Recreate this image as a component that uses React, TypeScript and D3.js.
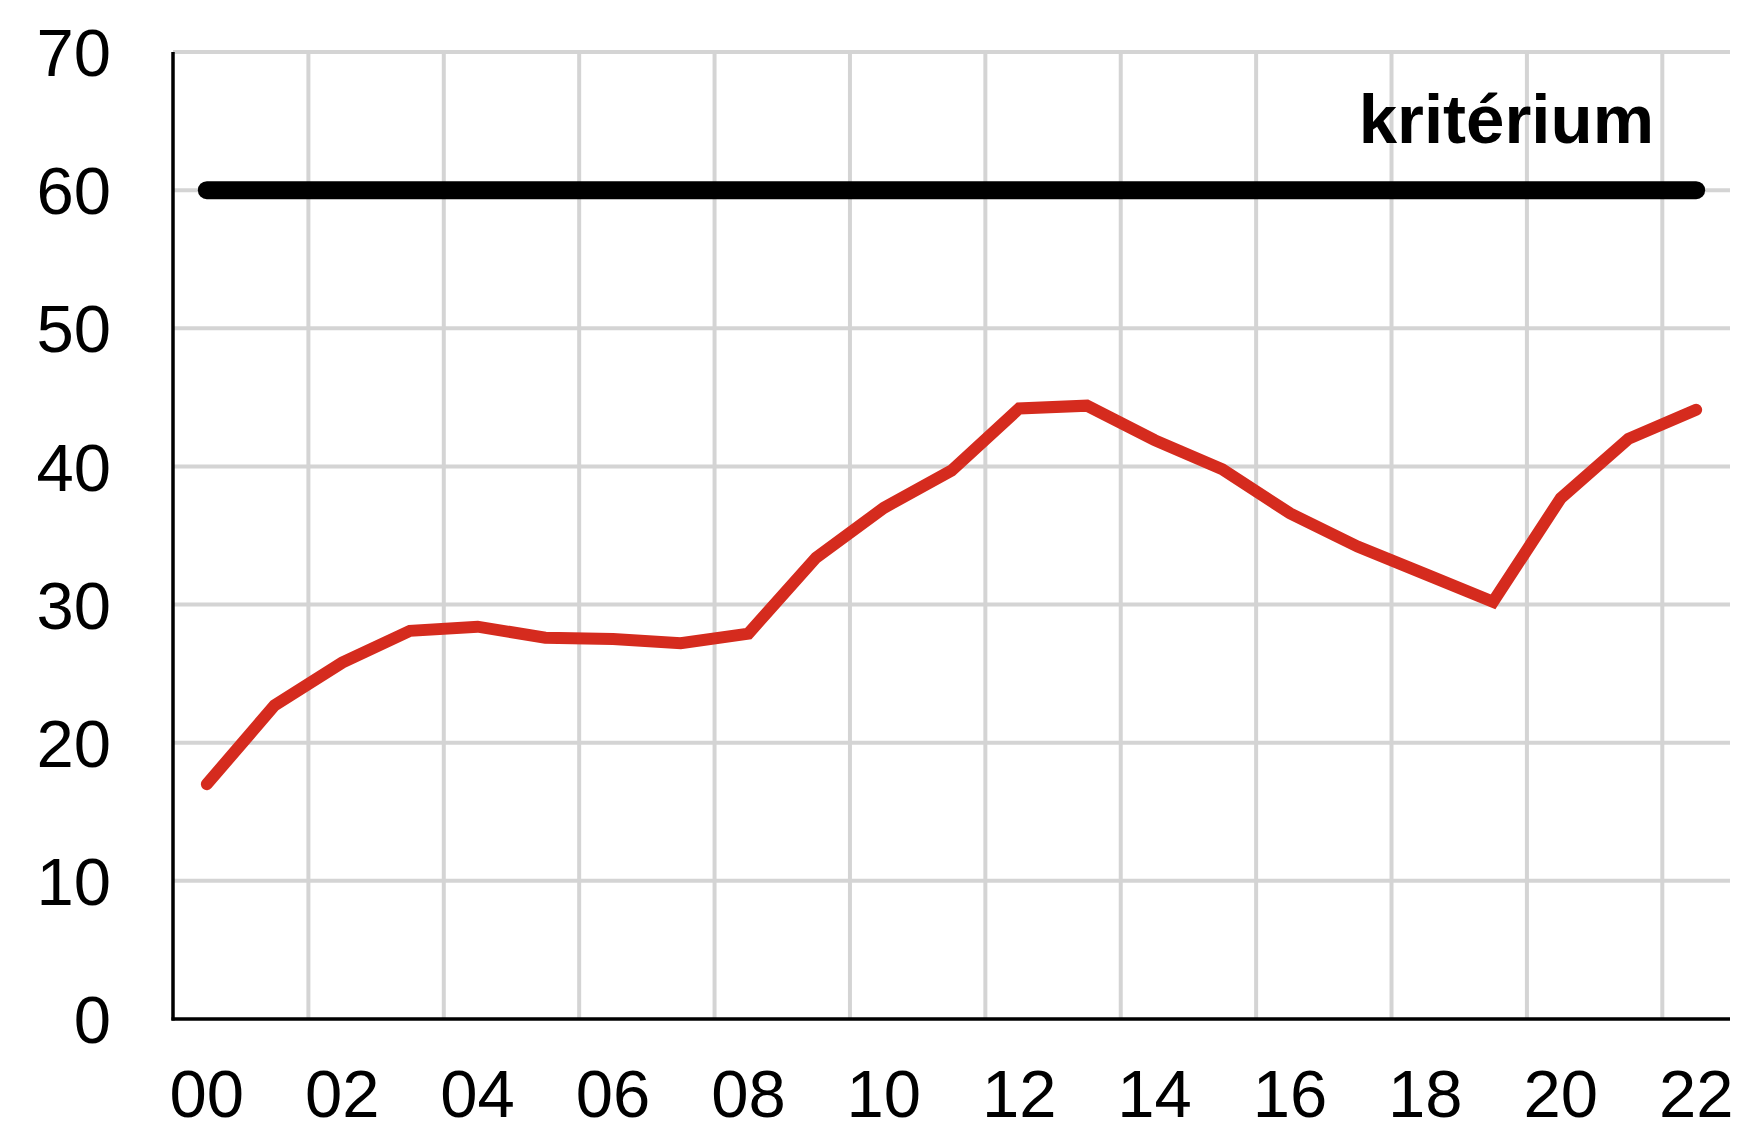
import React, { useEffect, useRef } from 'react';
import * as d3 from 'd3';

const years = [
  '00', '01', '02', '03', '04', '05', '06', '07', '08', '09', '10', '11',
  '12', '13', '14', '15', '16', '17', '18', '19', '20', '21', '22',
];
const values = [
  17.0, 22.7, 25.8, 28.1, 28.4, 27.6, 27.5, 27.2, 27.9, 33.4, 37.0, 39.7,
  44.2, 44.4, 41.9, 39.8, 36.6, 34.2, 32.2, 30.2, 37.7, 42.0, 44.1,
];
const yTicks = [0, 10, 20, 30, 40, 50, 60, 70];
const criterionValue = 60;
const criterionLabel = 'kritérium';

const W = 1747;
const H = 1132;

export default function App() {
  const svgRef = useRef<SVGSVGElement>(null);

  useEffect(() => {
    if (!svgRef.current) return;
    const svg = d3.select(svgRef.current);
    svg.selectAll('*').remove();

    const left = 173;
    const right = 1730;
    const top = 52;
    const bottom = 1019;
    const font = '"Liberation Sans", Arial, sans-serif';

    const x = d3.scaleBand<string>().domain(years).range([left, right]).padding(0);
    const y = d3.scaleLinear().domain([0, 70]).range([bottom, top]);
    const cx = (d: string) => (x(d) as number) + x.bandwidth() / 2;

    // horizontal grid
    svg.append('g')
      .selectAll('line')
      .data(yTicks.filter((t) => t > 0))
      .join('line')
      .attr('x1', left)
      .attr('x2', right)
      .attr('y1', (d) => y(d))
      .attr('y2', (d) => y(d))
      .attr('stroke', '#d4d4d4')
      .attr('stroke-width', 4);

    // vertical grid, every 2nd category boundary
    const gridCats = years.filter((_, i) => i > 0 && i % 2 === 0);
    svg.append('g')
      .selectAll('line')
      .data(gridCats)
      .join('line')
      .attr('x1', (d) => x(d) as number)
      .attr('x2', (d) => x(d) as number)
      .attr('y1', top)
      .attr('y2', bottom)
      .attr('stroke', '#d4d4d4')
      .attr('stroke-width', 4);

    // axes
    svg.append('line')
      .attr('x1', left).attr('x2', left)
      .attr('y1', top).attr('y2', bottom + 1.5)
      .attr('stroke', '#000').attr('stroke-width', 3.5);
    svg.append('line')
      .attr('x1', left - 1.5).attr('x2', right)
      .attr('y1', bottom).attr('y2', bottom)
      .attr('stroke', '#000').attr('stroke-width', 3.5);

    // y labels
    svg.append('g')
      .selectAll('text')
      .data(yTicks)
      .join('text')
      .attr('x', 111)
      .attr('y', (d) => y(d))
      .attr('dy', '0.36em')
      .attr('text-anchor', 'end')
      .attr('font-family', font)
      .attr('font-size', 67)
      .attr('fill', '#000')
      .text((d) => String(d));

    // x labels
    svg.append('g')
      .selectAll('text')
      .data(years.filter((_, i) => i % 2 === 0))
      .join('text')
      .attr('x', (d) => cx(d))
      .attr('y', 1117)
      .attr('text-anchor', 'middle')
      .attr('font-family', font)
      .attr('font-size', 67)
      .attr('fill', '#000')
      .text((d) => d);

    // criterion line
    svg.append('line')
      .attr('x1', cx(years[0]))
      .attr('x2', cx(years[years.length - 1]))
      .attr('y1', y(criterionValue))
      .attr('y2', y(criterionValue))
      .attr('stroke', '#000')
      .attr('stroke-width', 18)
      .attr('stroke-linecap', 'round');

    svg.append('text')
      .attr('x', 1654)
      .attr('y', 143)
      .attr('text-anchor', 'end')
      .attr('font-family', font)
      .attr('font-weight', 'bold')
      .attr('font-size', 69)
      .attr('fill', '#000')
      .text(criterionLabel);

    // data line
    const line = d3.line<number>()
      .x((_, i) => cx(years[i]))
      .y((d) => y(d));

    svg.append('path')
      .datum(values)
      .attr('d', line)
      .attr('fill', 'none')
      .attr('stroke', '#d52b1e')
      .attr('stroke-width', 12)
      .attr('stroke-linecap', 'round')
      .attr('stroke-linejoin', 'miter');
  }, []);

  return (
    <svg
      ref={svgRef}
      width={W}
      height={H}
      style={{ position: 'absolute', left: 0, top: 0, background: '#fff' }}
    />
  );
}
